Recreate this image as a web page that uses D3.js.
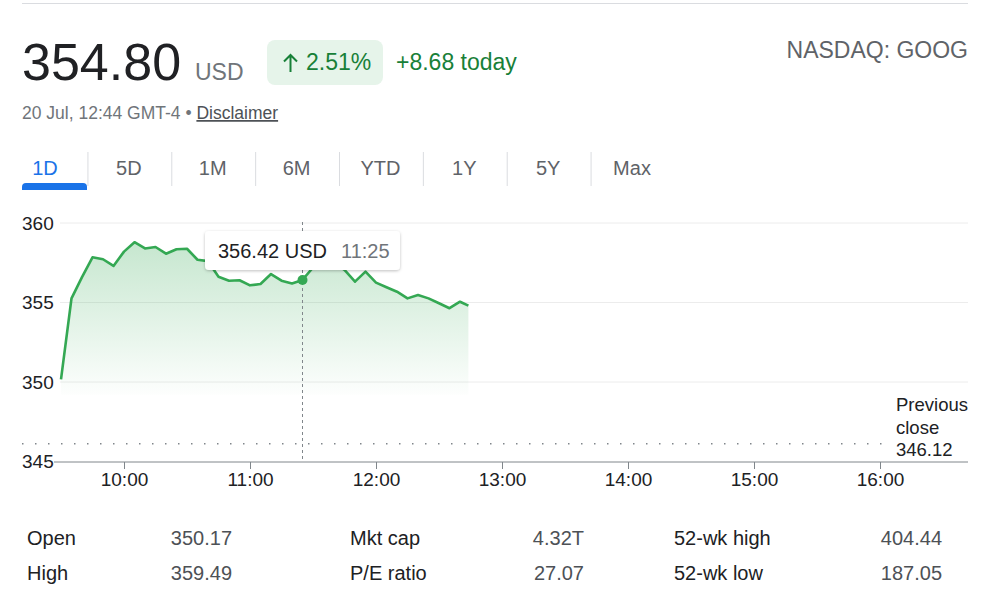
<!DOCTYPE html>
<html>
<head>
<meta charset="utf-8">
<script src="https://cdn.jsdelivr.net/npm/d3@7"></script>
<style>
  body { margin: 0; background: #fff; }
  svg { font-family: Arial, "Liberation Sans", sans-serif; display: block; }
</style>
</head>
<body>
<svg id="chart" width="1000" height="600"></svg>
<script>
// intraday prices, 5 min steps
let times = ["9:30","9:35","9:40","9:45","9:50","9:55","10:00","10:05","10:10","10:15","10:20","10:25","10:30","10:35","10:40","10:45","10:50","10:55","11:00","11:05","11:10","11:15","11:20","11:25","11:30","11:35","11:40","11:45","11:50","11:55","12:00","12:05","12:10","12:15","12:20","12:25","12:30","12:35","12:40","12:44"]
let prices = [350.17,355.26,356.6,357.84,357.72,357.30,358.20,358.79,358.40,358.49,358.07,358.35,358.38,357.69,357.60,356.62,356.37,356.40,356.08,356.16,356.79,356.37,356.20,356.42,357.20,357.60,357.50,357.05,356.31,356.94,356.25,355.96,355.68,355.26,355.47,355.26,354.95,354.64,355.05,354.80]
let yTicks = [345, 350, 355, 360]
let xTicks = ["10:00","11:00","12:00","13:00","14:00","15:00","16:00"]
let prevClose = 346.12
let hoverTime = "11:25"
let hoverPrice = 356.42

let tabs = ["1D","5D","1M","6M","YTD","1Y","5Y","Max"]
let statLabels = [["Open","High"],["Mkt cap","P/E ratio"],["52-wk high","52-wk low"]]
let statValues = [["350.17","359.49"],["4.32T","27.07"],["404.44","187.05"]]

let parse = d3.timeParse("%H:%M")
let data = times.map((t, i) => ({ t: parse(t), v: prices[i] }))

let svg = d3.select("#chart")
let green = "#188038"
let lineCol = "#34a853"

// top rule
svg.append("line").attr("x1", 22).attr("x2", 968).attr("y1", 3.5).attr("y2", 3.5)
  .attr("stroke", "#dadce0").attr("stroke-width", 1)

// header
svg.append("text").attr("x", 22).attr("y", 80).attr("font-size", 52).attr("fill", "#202124").text("354.80")
svg.append("text").attr("x", 195).attr("y", 80).attr("font-size", 23).attr("fill", "#70757a").text("USD")
svg.append("rect").attr("x", 267).attr("y", 40).attr("width", 116).attr("height", 45).attr("rx", 8).attr("fill", "#e6f4ea")
// up arrow icon
svg.append("path").attr("d", "M290.5,72 V55 M284,61.5 L290.5,55 L297,61.5")
  .attr("fill", "none").attr("stroke", green).attr("stroke-width", 2)
svg.append("text").attr("x", 306).attr("y", 70).attr("font-size", 23).attr("fill", green).text("2.51%")
svg.append("text").attr("x", 396).attr("y", 70).attr("font-size", 23).attr("fill", green).text("+8.68 today")
svg.append("text").attr("x", 968).attr("y", 58).attr("font-size", 23).attr("fill", "#5f6368")
  .attr("text-anchor", "end").text("NASDAQ: GOOG")

let sub = svg.append("text").attr("x", 22).attr("y", 119).attr("font-size", 17.5).attr("fill", "#70757a")
sub.append("tspan").text("20 Jul, 12:44 GMT-4 \u2022 ")
sub.append("tspan").attr("fill", "#4d5156").attr("text-decoration", "underline").text("Disclaimer")

// tabs
let tabX = d3.scalePoint().domain(tabs).range([45, 632])
let tabG = svg.append("g")
tabG.selectAll("text").data(tabs).enter().append("text")
  .attr("x", d => tabX(d)).attr("y", 175).attr("text-anchor", "middle").attr("font-size", 20)
  .attr("fill", d => d == "1D" ? "#1a73e8" : "#5f6368").text(d => d)
tabG.selectAll("line").data(tabs.slice(1)).enter().append("line")
  .attr("x1", d => tabX(d) - tabX.step() / 2 + 1).attr("x2", d => tabX(d) - tabX.step() / 2 + 1)
  .attr("y1", 152).attr("y2", 186).attr("stroke", "#dadce0")
svg.append("path").attr("d", "M22,190 v-3 a4,4 0 0 1 4,-4 h57 a4,4 0 0 1 4,4 v3 z").attr("fill", "#1a73e8")

// chart scales
let x = d3.scaleTime().domain([parse("9:30"), parse("16:00")]).range([61, 880])
let y = d3.scaleLinear().domain([345, 360]).range([461.5, 223])

// gradient for area
let defs = svg.append("defs")
let grad = defs.append("linearGradient").attr("id", "fade").attr("x1", 0).attr("x2", 0)
grad.append("stop").attr("offset", "0%").attr("stop-color", lineCol).attr("stop-opacity", 0.28)
grad.append("stop").attr("offset", "100%").attr("stop-color", lineCol).attr("stop-opacity", 0.01)
let shadow = defs.append("filter").attr("id", "shadow").attr("x", "-20%").attr("y", "-40%").attr("width", "140%").attr("height", "180%")
shadow.append("feDropShadow").attr("dx", 0).attr("dy", 1).attr("stdDeviation", 1.5).attr("flood-color", "#000").attr("flood-opacity", 0.25)

// gridlines + y labels
svg.append("g").selectAll("line").data(yTicks.slice(1)).enter().append("line")
  .attr("x1", 60).attr("x2", 968).attr("y1", d => y(d)).attr("y2", d => y(d))
  .attr("stroke", "#ececec").attr("stroke-width", 1)
svg.append("g").selectAll("text").data(yTicks).enter().append("text")
  .attr("x", 22).attr("y", d => y(d)).attr("dy", "0.35em").attr("font-size", 19).attr("fill", "#202124")
  .text(d => d)

// previous close
svg.append("line").attr("x1", 22).attr("x2", 888).attr("y1", y(prevClose)).attr("y2", y(prevClose))
  .attr("stroke", "#80868b").attr("stroke-width", 1.5).attr("stroke-dasharray", "1.5,11.5")
let pc = svg.append("text").attr("x", 896).attr("font-size", 18.5).attr("fill", "#202124")
;["Previous", "close", prevClose.toFixed(2)].forEach((s, i) => {
  pc.append("tspan").attr("x", 896).attr("y", 411 + i * 22.5).text(s)
})

// area + line
let area = d3.area().x(d => x(d.t)).y0(y(349.2)).y1(d => y(d.v))
let topY = d3.min(data, d => y(d.v))
grad.attr("gradientUnits", "userSpaceOnUse").attr("y1", topY).attr("y2", y(349.2))
svg.append("path").datum(data).attr("d", area).attr("fill", "url(#fade)")
svg.append("path").datum(data).attr("d", d3.line().x(d => x(d.t)).y(d => y(d.v)))
  .attr("fill", "none").attr("stroke", lineCol).attr("stroke-width", 2.6).attr("stroke-linejoin", "round")

// x axis
let xa = svg.append("g").attr("transform", "translate(0," + 462 + ")")
  .call(d3.axisBottom(x).tickValues(xTicks.map(parse)).tickFormat(d3.timeFormat("%H:%M")).tickSize(7).tickPadding(4))
xa.select(".domain").remove()
xa.selectAll(".tick line").attr("stroke", "#80868b")
xa.selectAll(".tick text").attr("font-size", 19).attr("fill", "#202124").attr("font-family", "Arial, 'Liberation Sans', sans-serif")
svg.append("line").attr("x1", 54).attr("x2", 968).attr("y1", 462).attr("y2", 462).attr("stroke", "#80868b").attr("stroke-width", 1)

// hover crosshair + tooltip
let hx = x(parse(hoverTime))
svg.append("line").attr("x1", hx).attr("x2", hx).attr("y1", 222).attr("y2", 461)
  .attr("stroke", "#80868b").attr("stroke-width", 1).attr("stroke-dasharray", "3,3")
svg.append("circle").attr("cx", hx).attr("cy", y(hoverPrice)).attr("r", 5).attr("fill", lineCol)
svg.append("rect").attr("x", 205).attr("y", 231).attr("width", 195).attr("height", 39).attr("rx", 4)
  .attr("fill", "#fff").attr("filter", "url(#shadow)")
svg.append("text").attr("x", 218).attr("y", 258).attr("font-size", 20).attr("fill", "#202124").text(hoverPrice.toFixed(2) + " USD")
svg.append("text").attr("x", 341).attr("y", 258).attr("font-size", 20).attr("fill", "#70757a").text(hoverTime)

// stats table
let colLabelX = [27, 350, 674]
let colValX = [232, 584, 942]
statLabels.forEach((col, c) => {
  col.forEach((lab, r) => {
    svg.append("text").attr("x", colLabelX[c]).attr("y", 545 + r * 35).attr("font-size", 20).attr("fill", "#202124").text(lab)
    svg.append("text").attr("x", colValX[c]).attr("y", 545 + r * 35).attr("font-size", 20).attr("fill", "#4d5156")
      .attr("text-anchor", "end").text(statValues[c][r])
  })
})
</script>
</body>
</html>
